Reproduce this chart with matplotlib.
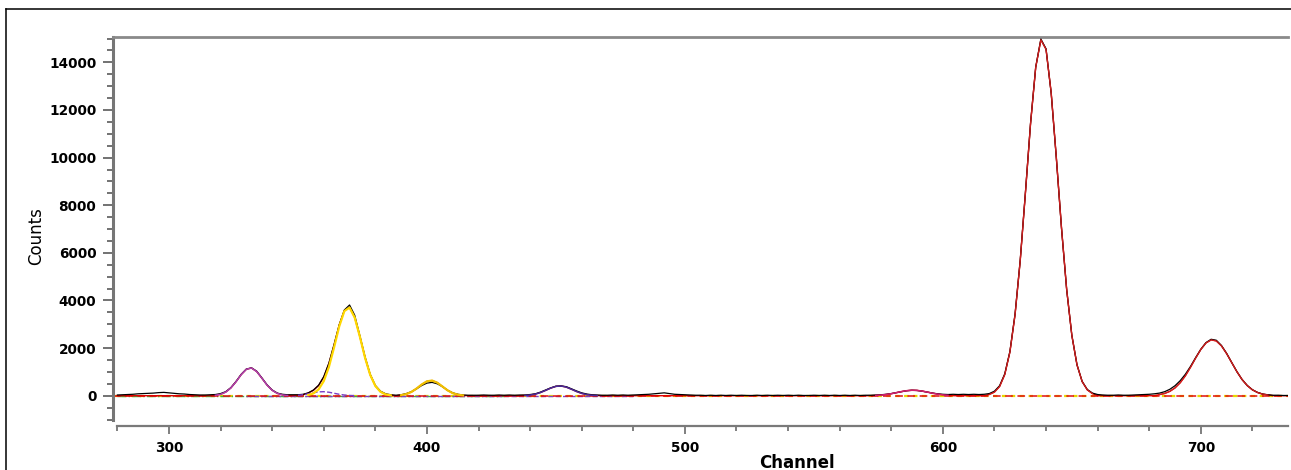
import numpy as np
import matplotlib

matplotlib.use("Agg")
import matplotlib.pyplot as plt
from matplotlib.lines import Line2D

# measured spectrum, counts every 2nd channel from 280 to 734
data_channels = np.arange(280, 736, 2)
data_counts = [
    30, 40, 50, 60, 80, 90, 100, 110, 130, 140,          # 280-298
    120, 100, 80, 70, 50, 40, 30, 30, 40, 50,            # 300-318
    90, 170, 340, 600, 900, 1120, 1170, 1030, 750, 460,  # 320-338
    240, 110, 60, 40, 40, 40, 60, 120, 240, 440,         # 340-358
    800, 1370, 2150, 2980, 3600, 3810, 3380, 2520, 1640, 900,  # 360-378
    430, 190, 80, 40, 20, 40, 90, 170, 290, 430,         # 380-398
    530, 560, 500, 380, 230, 120, 60, 30, 20, 20,        # 400-418
    20, 30, 20, 20, 30, 20, 30, 20, 30, 30,              # 420-438
    50, 80, 150, 240, 330, 400, 410, 380, 290, 200,      # 440-458
    120, 70, 40, 30, 20, 20, 30, 20, 30, 20,             # 460-478
    30, 40, 50, 60, 80, 100, 120, 90, 60, 50,            # 480-498
    40, 30, 20, 20, 10, 20, 10, 20, 10, 20,              # 500-518
    10, 20, 10, 10, 20, 10, 20, 10, 20, 10,              # 520-538
    20, 10, 20, 10, 10, 20, 10, 20, 10, 20,              # 540-558
    10, 20, 10, 20, 10, 20, 20, 30, 40, 60,              # 560-578
    90, 130, 170, 210, 230, 220, 190, 150, 110, 80,      # 580-598
    60, 50, 60, 50, 60, 50, 60, 50, 60, 90,              # 600-618
    190, 420, 920, 1860, 3440, 5700, 8520, 11450, 13800, 14980,  # 620-638
    14570, 12700, 9970, 7030, 4450, 2540, 1300, 600, 260, 110,   # 640-658
    50, 30, 20, 20, 30, 20, 20, 30, 40, 50,              # 660-678
    60, 80, 110, 170, 270, 420, 630, 900, 1230, 1600,    # 680-698
    1950, 2230, 2370, 2330, 2110, 1780, 1390, 1010, 680, 430,  # 700-718
    250, 140, 70, 40, 20, 20, 10, 10,                    # 720-734
]

# fitted peak components (channel, counts)
peak332_ch = np.arange(318, 348, 2)
peak332 = [19, 58, 152, 328, 590, 887, 1112, 1163, 1016, 739, 449, 228, 97, 34, 10]
peak360_ch = np.arange(350, 374, 2)
peak360 = [18, 42, 81, 126, 161, 169, 146, 103, 60, 29, 11, 4]
peak369_ch = np.arange(354, 388, 2)
peak369 = [31, 97, 264, 612, 1208, 2031, 2913, 3556, 3701, 3283, 2481, 1598, 877,
           409, 164, 55, 16]
peak402_ch = np.arange(390, 416, 2)
peak402 = [24, 69, 159, 303, 473, 605, 636, 548, 388, 225, 108, 42, 13]
peak451_ch = np.arange(438, 468, 2)
peak451 = [11, 29, 67, 133, 224, 321, 392, 408, 362, 273, 176, 97, 45, 18, 6]
peak589_ch = np.arange(574, 604, 2)
peak589 = [12, 26, 50, 84, 128, 174, 211, 229, 223, 194, 151, 105, 66, 37, 18]
peak639_ch = np.arange(618, 660, 2)
peak639 = [53, 152, 387, 890, 1838, 3410, 5681, 8505, 11430, 13793, 14949, 14550,
           12720, 9990, 7044, 4461, 2537, 1296, 594, 245, 90]
peak704_ch = np.arange(684, 728, 2)
peak704 = [46, 95, 183, 327, 543, 834, 1194, 1582, 1943, 2216, 2345, 2301, 2094,
           1770, 1387, 1008, 679, 425, 247, 133, 66, 31]

components = [
    (peak332_ch, peak332, "#b040b0", "-", 1.1),
    (peak360_ch, peak360, "#7a3cc8", "--", 1.0),
    (peak369_ch, peak369, "#ffd800", "-", 1.6),
    (peak402_ch, peak402, "#f0c000", "-", 1.6),
    (peak451_ch, peak451, "#4a2a9a", "-", 1.1),
    (peak589_ch, peak589, "#d02070", "-", 1.1),
    (peak639_ch, peak639, "#d02020", "-", 0.9),
    (peak704_ch, peak704, "#d02020", "-", 0.9),
]

x_ticks = [300, 400, 500, 600, 700]
y_ticks = [0, 2000, 4000, 6000, 8000, 10000, 12000, 14000]

W, H = 1291, 470
fig = plt.figure(figsize=(W / 100, H / 100), dpi=100)
ax = fig.add_axes([113 / W, 1 - 420 / H, 1175 / W, 383 / H])

# outer frame (left and top edge)
fig.add_artist(Line2D([6 / W, 6 / W], [0, 1 - 9 / H], transform=fig.transFigure,
                      color="black", lw=1.1))
fig.add_artist(Line2D([6 / W, 1], [1 - 9 / H, 1 - 9 / H], transform=fig.transFigure,
                      color="black", lw=1.1))

# baselines
ax.axhline(0, color="#e8d800", ls=(0, (2, 2)), lw=1.6, zorder=1)
ax.hlines(0, 280, 430, color="#40b040", ls="-.", lw=1.0, zorder=1)
ax.hlines(0, 330, 480, color="#8040c0", ls="--", lw=1.0, zorder=1)
ax.axhline(0, color="#e01010", ls=(0, (5, 3)), lw=1.1, zorder=1)

fit = np.zeros(len(data_channels))
for ch, vals, color, ls, lw in components:
    ax.plot(ch, vals, color=color, ls=ls, lw=lw, zorder=4)
    fit += np.interp(data_channels, ch, vals, left=0, right=0)

# total fit under the data, components on top
ax.plot(data_channels, fit, color="#e00000", lw=1.0, zorder=2)
ax.plot(data_channels, data_counts, color="black", lw=0.9, zorder=3)

ax.set_xlim(278.3, 733.8)
ax.set_ylim(-1020, 15065)

ax.spines["right"].set_visible(False)
ax.spines["top"].set_color("#8a8a8a")
ax.spines["top"].set_linewidth(2.0)
ax.spines["left"].set_color("#767676")
ax.spines["left"].set_linewidth(2.2)
ax.spines["bottom"].set_color("#7a7a7a")
ax.spines["bottom"].set_linewidth(1.6)
ax.spines["bottom"].set_position(("outward", 4))
ax.spines["bottom"].set_bounds(280, 733.8)

ax.set_xticks(x_ticks)
ax.set_xticks(np.arange(280, 734, 20), minor=True)
ax.set_yticks(y_ticks)
ax.set_yticks(np.arange(-1000, 15001, 500), minor=True)

ax.tick_params(axis="x", which="major", length=6, width=1.2, color="#6a6a6a", pad=5)
ax.tick_params(axis="x", which="minor", length=3.6, width=1.2, color="#6a6a6a")
ax.tick_params(axis="y", which="major", length=7, width=1.2, color="#5a5a5a", pad=5)
ax.tick_params(axis="y", which="minor", length=4, width=1.2, color="#5a5a5a")
for lab in ax.get_xticklabels() + ax.get_yticklabels():
    lab.set_fontweight("bold")
    lab.set_fontsize(9.8)

ax.set_xlabel("Channel", fontsize=12, fontweight="bold")
ax.set_ylabel("Counts", fontsize=12)
ax.xaxis.set_label_coords(0.582, -0.09)
ax.yaxis.set_label_coords(-0.058, 0.48)

fig.savefig("out.png", dpi=100)
plt.close(fig)
